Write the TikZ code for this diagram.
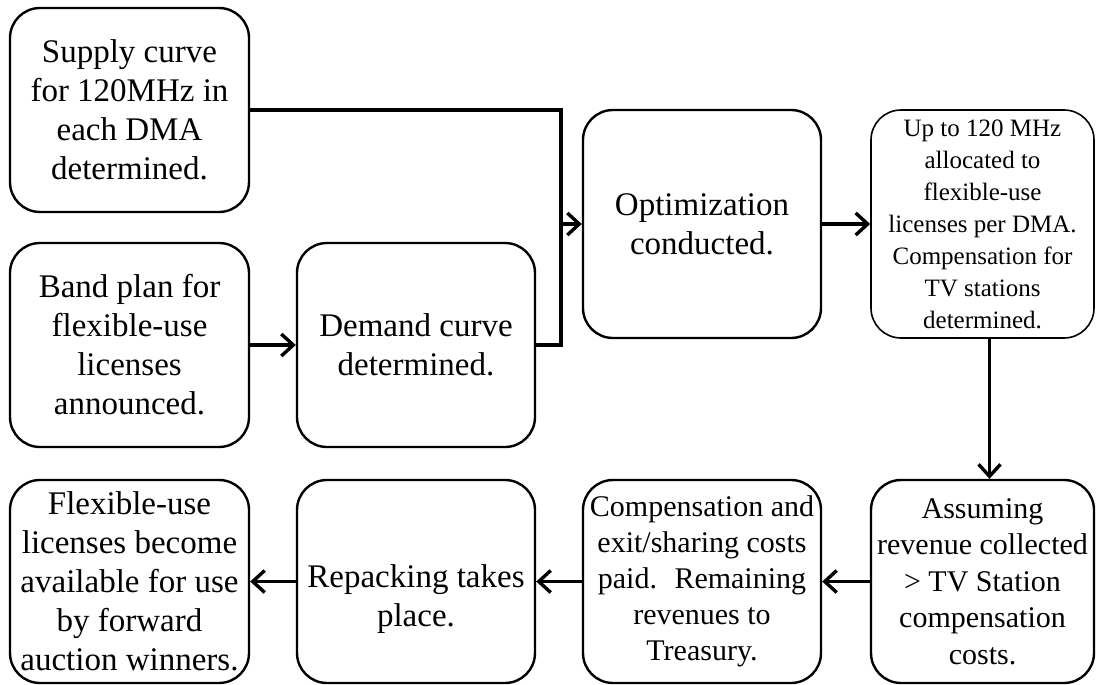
\documentclass[tikz,border=0pt]{standalone}
\usepackage{fontspec}
\setmainfont{Liberation Serif}
\usepackage{xcolor}
\usepackage{tikz}
\usetikzlibrary{arrows.meta}

\begin{document}
\begin{tikzpicture}[x=1pt,y=-1pt,
  stagetext/.style={align=center,font=\fontsize{33}{39}\selectfont},
  stage/.style={draw,line width=2.4pt,rounded corners=30pt,inner sep=0pt,
    minimum width=238pt,minimum height=204pt,stagetext},
  flow/.style={line width=3.4pt,-{Straight Barb[length=12pt,width=22pt]}},
  wire/.style={line width=3.4pt}]
  \useasboundingbox (0,0) rectangle (1100,685);
  \node[stage,minimum width=239pt] (supply) at (129.5,110) {Supply curve\\for 120MHz in\\each DMA\\determined.};
  \node[stage,minimum width=239pt] (band) at (129.5,345) {Band plan for\\flexible-use\\licenses\\announced.};
  \node[stage] (demand) at (416,345) {Demand curve\\determined.};
  \node[stage,minimum height=228pt] (optim) at (702,224) {Optimization\\conducted.};
  \node[stage,line width=1.6pt,minimum width=223pt,minimum height=228pt,
    font=\fontsize{25}{32}\selectfont] (alloc) at (982.5,224)
    {Up to 120 MHz\\allocated to\\flexible-use\\licenses per DMA.\\Compensation for\\TV stations\\determined.};
  \node[stage,minimum width=223pt,minimum height=203pt,font=\fontsize{30}{36.5}\selectfont] (assume) at (982.5,581.5)
    {Assuming\\revenue collected\\> TV Station\\compensation\\costs.};
  \node[stage,minimum height=203pt,font=\fontsize{30}{36}\selectfont] (paid) at (702,581.5)
    {Compensation and\\exit/sharing costs\\paid.~ Remaining\\revenues to\\Treasury.};
  \node[stage,minimum height=203pt,label={[stagetext,yshift=-18pt]center:Repacking takes\\place.}] (repack) at (416,581.5) {};
  \node[stage,minimum width=239pt,minimum height=203pt] (avail) at (129.5,581.5)
    {Flexible-use\\licenses become\\available for use\\by forward\\auction winners.};

  \coordinate (merge) at (561,224);
  \draw[wire] (supply.east) -| (merge) |- (demand.east);
  \draw[flow] (merge) -- (optim.west);
  \draw[flow] (band) -- (demand);
  \draw[flow] (optim) -- (alloc);
  \draw[flow] ([xshift=7pt]alloc.south) -- ([xshift=7pt]assume.north);
  \draw[flow] (assume) -- (paid);
  \draw[flow] (paid) -- (repack);
  \draw[flow] (repack) -- (avail);
\end{tikzpicture}
\end{document}
